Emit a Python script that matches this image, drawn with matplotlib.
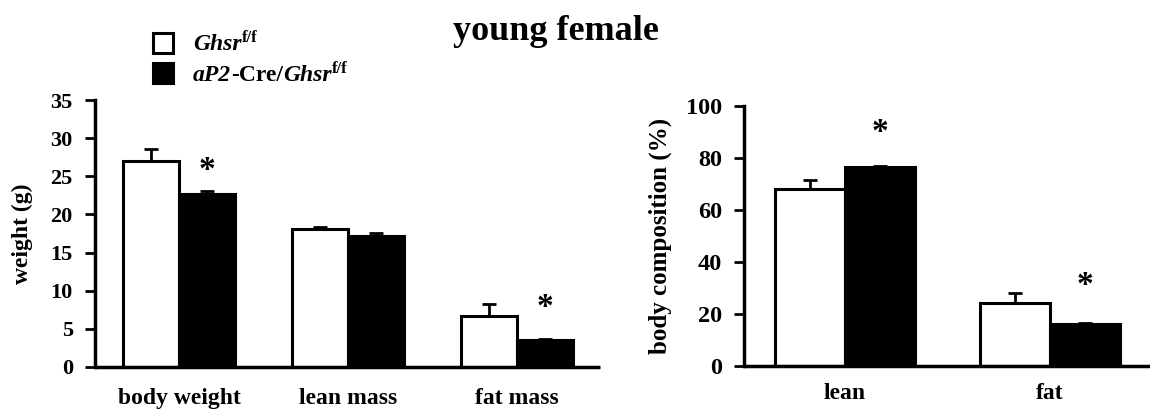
import matplotlib
matplotlib.use("Agg")
import matplotlib.pyplot as plt
from matplotlib.patches import Rectangle

plt.rcParams["font.family"] = ["Liberation Serif", "DejaVu Serif"]
plt.rcParams["font.weight"] = "bold"

# ===== DATA =====
mass_labels = ["body weight", "lean mass", "fat mass"]
mass_ctrl = [27.0, 18.15, 6.75]
mass_ctrl_err = [1.55, 0.2, 1.55]
mass_ko = [22.7, 17.15, 3.55]
mass_ko_err = [0.4, 0.45, 0.18]
mass_star = [26.5, None, 8.5]

comp_labels = ["lean", "fat"]
comp_ctrl = [68.2, 24.4]
comp_ctrl_err = [3.2, 3.8]
comp_ko = [76.5, 16.2]
comp_ko_err = [0.5, 0.5]
comp_star = [92.0, 33.0]

fig = plt.figure(figsize=(11.5, 4.09), dpi=100)

ax1 = fig.add_axes([0.0826, 0.1027, 0.4391, 0.6528])
ax2 = fig.add_axes([0.647, 0.105, 0.353, 0.636])


def draw_panel(ax, labels, ctrl, ctrl_err, ko, ko_err, stars, width, xlim, ylim, yticks,
               ylabel, ytick_size, ylabel_size, xpad):
    x = list(range(len(labels)))
    xc = [i - width / 2 for i in x]
    xk = [i + width / 2 for i in x]
    ax.errorbar(xc, ctrl, yerr=[[0] * len(x), ctrl_err], fmt="none",
                ecolor="black", elinewidth=2, capsize=5, capthick=2, zorder=1)
    ax.errorbar(xk, ko, yerr=[[0] * len(x), ko_err], fmt="none",
                ecolor="black", elinewidth=2, capsize=5, capthick=2, zorder=1)
    ax.bar(xc, ctrl, width=width, color="white", edgecolor="black", linewidth=2.2, zorder=2)
    ax.bar(xk, ko, width=width, color="black", edgecolor="black", linewidth=2.2, zorder=2)
    for xi, s in zip(xk, stars):
        if s is not None:
            # asterisk glyph sits high in its box, so nudge it down
            ax.annotate("*", (xi, s), xytext=(0, -4), textcoords="offset points",
                        ha="center", va="center", fontsize=24, fontweight="bold")

    ax.set_xlim(*xlim)
    ax.set_ylim(*ylim)
    ax.set_yticks(yticks)
    ax.set_xticks(x)
    ax.set_xticklabels(labels, fontsize=17, fontweight="bold")
    ax.tick_params(axis="x", length=0, pad=xpad)
    ax.tick_params(axis="y", length=7, width=2, labelsize=ytick_size, direction="out", pad=9)
    for lab in ax.get_yticklabels():
        lab.set_fontweight("bold")
    ax.set_ylabel(ylabel, fontsize=ylabel_size, fontweight="bold")
    ax.spines["top"].set_visible(False)
    ax.spines["right"].set_visible(False)
    ax.spines["left"].set_linewidth(2.5)
    ax.spines["bottom"].set_linewidth(2.5)
    ax.spines["bottom"].set_capstyle("butt")


draw_panel(ax1, mass_labels, mass_ctrl, mass_ctrl_err, mass_ko, mass_ko_err, mass_star,
           0.33, (-0.497, 2.49), (0, 35), [0, 5, 10, 15, 20, 25, 30, 35], "weight (g)", 16, 17, 15)
draw_panel(ax2, comp_labels, comp_ctrl, comp_ctrl_err, comp_ko, comp_ko_err, comp_star,
           0.34, (-0.493, 1.488), (0, 100), [0, 20, 40, 60, 80, 100], "body composition (%)",
           17.5, 18, 12)

ax1.yaxis.set_label_coords(-0.122, 0.5)
ax2.yaxis.set_label_coords(-0.177, 0.5)

# Title
fig.text(0.4835, 0.924, "young female", ha="center", va="center", fontsize=26, fontweight="bold")

# Legend (manual, like the original figure)
W, H = fig.get_size_inches() * fig.dpi
fig.patches.append(Rectangle((153 / W, 1 - 53 / H), 20 / W, 20 / H, transform=fig.transFigure,
                             facecolor="white", edgecolor="black", linewidth=2.2))
fig.patches.append(Rectangle((153 / W, 1 - 83 / H), 20 / W, 20 / H, transform=fig.transFigure,
                             facecolor="black", edgecolor="black", linewidth=2.2))

renderer = fig.canvas.get_renderer()


def chain(x, y, parts):
    for s, style, size, dy in parts:
        t = fig.text(x, y + dy, s, fontsize=size, fontstyle=style, fontweight="bold",
                     ha="left", va="baseline")
        bb = t.get_window_extent(renderer)
        x = bb.x1 / W


chain(193 / W, 1 - 50 / H, [("Ghsr", "italic", 17, 0), ("f/f", "normal", 12, 8 / H)])
chain(193 / W, 1 - 81 / H, [("aP2", "italic", 17, 0), ("-Cre/", "normal", 17, 0),
                            ("Ghsr", "italic", 17, 0), ("f/f", "normal", 12, 8 / H)])

fig.savefig("out.png", dpi=100)
